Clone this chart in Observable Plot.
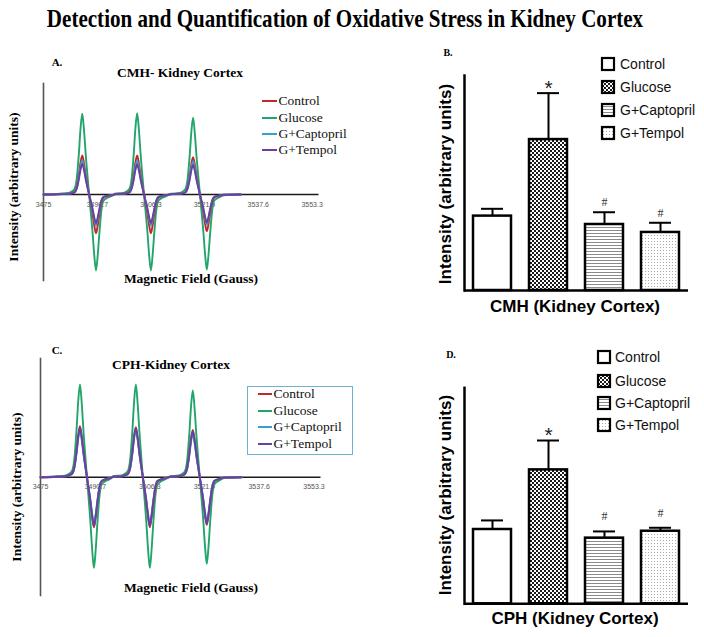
<!DOCTYPE html>
<html>
<head>
<meta charset="utf-8">
<script src="https://cdn.jsdelivr.net/npm/d3@7"></script>
<script src="https://cdn.jsdelivr.net/npm/@observablehq/plot@0.6"></script>
<style>
  html, body { margin: 0; padding: 0; background: white; }
  #fig { position: relative; width: 704px; height: 637px; overflow: hidden; background: white; }
  .serif { font-family: "Liberation Serif", "Times New Roman", serif; }
  .sans { font-family: "Liberation Sans", Arial, sans-serif; }
</style>
</head>
<body>
<svg width="0" height="0" style="position:absolute">
  <defs>
    <pattern id="pat-check" width="4" height="4" patternUnits="userSpaceOnUse">
      <rect width="4" height="4" fill="white"/>
      <rect width="2" height="2" fill="#1a1a1a"/>
      <rect x="2" y="2" width="2" height="2" fill="#1a1a1a"/>
    </pattern>
    <pattern id="pat-hlines" width="4" height="3" patternUnits="userSpaceOnUse">
      <rect width="4" height="3" fill="white"/>
      <rect y="1" width="4" height="1" fill="#8a8a8a"/>
    </pattern>
    <pattern id="pat-dots" width="3" height="3" patternUnits="userSpaceOnUse">
      <rect width="3" height="3" fill="white"/>
      <rect width="1" height="1" fill="#a8a8a8"/>
    </pattern>
  </defs>
</svg>
<div id="fig"></div>
<script>
// ---------------- DATA ----------------
const seriesNames = ["Control", "Glucose", "G+Captopril", "G+Tempol"];

// EPR spectra: field axis tick labels (Gauss)
const fieldTicks = [3475, 3490.7, 3506.3, 3521.9, 3537.6, 3553.3];
// positions of the three positive peaks of the triplet (Gauss)
const peakFields = [3486.3, 3502.3, 3518.6];
// spectrum start / end (Gauss)
const spectrumStart = 3475;
const spectrumEnd = 3532.5;
// line profile: offset from each peak (G) and normalized height
const profileOffsets = [-6.5, -4, -3, -2.25, -1.6, -1, -0.5, 0, 0.5, 1, 2, 3, 3.5, 4, 4.5, 5, 5.6, 6.2, 7.5, 9];
const profileShape   = [0.01, 0.02, 0.04, 0.07, 0.2, 0.5, 0.82, 1, 0.8, 0.5, 0, -0.5, -0.8, -1, -0.8, -0.5, -0.2, -0.08, -0.04, -0.01];

// Panel A (CMH) peak heights / trough depths, per line of the triplet
const cmhControlPeaks = [39, 39, 37.3];
const cmhControlTroughs = [38.7, 38.7, 36.7];
const cmhGlucosePeaks = [80.7, 81.3, 76.7];
const cmhGlucoseTroughs = [76, 76, 75];
const cmhCaptoprilPeaks = [34, 33.5, 33];
const cmhCaptoprilTroughs = [31, 31, 30];
const cmhTempolPeaks = [30.5, 30, 29.5];
const cmhTempolTroughs = [28.7, 28.5, 28];

// Panel C (CPH)
const cphControlPeaks = [51, 50, 47.3];
const cphControlTroughs = [50, 50, 47.7];
const cphGlucosePeaks = [92.7, 92.7, 86.7];
const cphGlucoseTroughs = [90.7, 90.7, 86.7];
const cphCaptoprilPeaks = [46.7, 47.3, 43.3];
const cphCaptoprilTroughs = [46, 46, 44];
const cphTempolPeaks = [49.5, 49, 46];
const cphTempolTroughs = [49, 48.5, 46.5];

// Bar charts (arbitrary units)
const cmhMeans = [34.6, 70.2, 30.7, 27.0];
const cmhErrors = [3.4, 21.6, 5.7, 4.5];
const cmhMarks = ["", "*", "#", "#"];
const cphMeans = [34.4, 62.0, 30.4, 33.6];
const cphErrors = [4.2, 13.6, 3.1, 1.6];
const cphMarks = ["", "*", "#", "#"];

// ---------------- STYLES ----------------
const lineColors = {"Control": "#c0282d", "Glucose": "#22a56b", "G+Captopril": "#3a9fcf", "G+Tempol": "#6a3fa0"};
const barFills = {"Control": "white", "Glucose": "url(#pat-check)", "G+Captopril": "url(#pat-hlines)", "G+Tempol": "url(#pat-dots)"};
const drawOrder = ["Glucose", "Control", "G+Captopril", "G+Tempol"];

const fig = document.getElementById("fig");

function label(text, cx, cy, cls, style, extraTransform) {
  const d = document.createElement("div");
  d.textContent = text;
  d.className = cls;
  Object.assign(d.style, {
    position: "absolute", left: cx + "px", top: cy + "px",
    transform: "translate(-50%,-50%)" + (extraTransform || ""),
    whiteSpace: "nowrap", lineHeight: "1"
  }, style || {});
  fig.appendChild(d);
  return d;
}
function leftText(text, x, cy, cls, style) {
  const d = document.createElement("div");
  d.textContent = text;
  d.className = cls;
  Object.assign(d.style, {
    position: "absolute", left: x + "px", top: cy + "px",
    transform: "translateY(-50%)", whiteSpace: "nowrap", lineHeight: "1"
  }, style || {});
  fig.appendChild(d);
}
function addPlot(svg, left, top) {
  svg.style.position = "absolute";
  svg.style.left = left + "px";
  svg.style.top = top + "px";
  svg.style.maxWidth = "none";
  svg.style.overflow = "visible";
  fig.appendChild(svg);
}

function spectrum(peaks, troughs) {
  const rows = [{field: spectrumStart, v: 0}];
  peakFields.forEach((p, i) => {
    profileOffsets.forEach((o, j) => {
      const s = profileShape[j];
      rows.push({field: p + o, v: s * (s > 0 ? peaks[i] : troughs[i])});
    });
  });
  rows.push({field: spectrumEnd, v: 0});
  return rows;
}

function spectrumPlot(seriesRows, opts) {
  return Plot.plot({
    width: opts.width, height: opts.height,
    marginLeft: opts.marginLeft, marginRight: opts.marginRight,
    marginTop: opts.marginTop, marginBottom: opts.marginBottom,
    x: {domain: [3475, 3555.3], axis: null},
    y: {domain: opts.yDomain, axis: null},
    style: {background: "transparent", fontFamily: "Liberation Sans, Arial, sans-serif", overflow: "visible"},
    marks: [
      Plot.frame({anchor: "left", stroke: "#555", strokeWidth: 1.6}),
      Plot.text(fieldTicks, {x: d => d, y: 0, dy: 10, text: d => String(d), fontSize: 7, fill: "#555"}),
      Plot.ruleY([0], {stroke: "#1a1a1a", strokeWidth: 1.5}),
      ...drawOrder.map(name => Plot.line(seriesRows[name], {
        x: "field", y: "v", stroke: lineColors[name], strokeWidth: 1.9, curve: "monotone-x"
      }))
    ]
  });
}

// ---------------- TITLE ----------------
label("Detection and Quantification of Oxidative Stress in Kidney Cortex", 345, 19, "serif",
  {fontWeight: "bold", fontSize: "26px"}, " scaleX(0.81)");

// ---------------- PANEL A ----------------
const specA = {
  "Control": spectrum(cmhControlPeaks, cmhControlTroughs),
  "Glucose": spectrum(cmhGlucosePeaks, cmhGlucoseTroughs),
  "G+Captopril": spectrum(cmhCaptoprilPeaks, cmhCaptoprilTroughs),
  "G+Tempol": spectrum(cmhTempolPeaks, cmhTempolTroughs)
};
addPlot(spectrumPlot(specA, {width: 340, height: 260, marginLeft: 43, marginRight: 21.5, marginTop: 43, marginBottom: 20, yDomain: [-86, 111]}), 0, 40);
label("A.", 57, 62, "serif", {fontWeight: "bold", fontSize: "11px"});
label("CMH- Kidney Cortex", 180, 73, "serif", {fontWeight: "bold", fontSize: "13.5px"});
label("Intensity (arbitrary units)", 13.5, 187, "serif", {fontWeight: "bold", fontSize: "13.5px"}, " rotate(-90deg)");
label("Magnetic Field (Gauss)", 191, 279, "serif", {fontWeight: "bold", fontSize: "13.5px"});

function specLegend(rowsY, lx1, lx2, tx) {
  seriesNames.forEach((name, i) => {
    const ln = document.createElement("div");
    Object.assign(ln.style, {position: "absolute", left: lx1 + "px", top: (rowsY[i] - 1) + "px",
      width: (lx2 - lx1) + "px", height: "2px", background: lineColors[name]});
    fig.appendChild(ln);
    leftText(name, tx, rowsY[i], "serif", {fontSize: "13.5px", color: "#111"});
  });
}
specLegend([101, 117.7, 134.3, 150], 262, 277, 278.5);

// ---------------- PANEL C ----------------
const specC = {
  "Control": spectrum(cphControlPeaks, cphControlTroughs),
  "Glucose": spectrum(cphGlucosePeaks, cphGlucoseTroughs),
  "G+Captopril": spectrum(cphCaptoprilPeaks, cphCaptoprilTroughs),
  "G+Tempol": spectrum(cphTempolPeaks, cphTempolTroughs)
};
addPlot(spectrumPlot(specC, {width: 340, height: 280, marginLeft: 40, marginRight: 19.5, marginTop: 28, marginBottom: 15, yDomain: [-118.3, 118.7]}), 0, 330);
label("C.", 57, 350, "serif", {fontWeight: "bold", fontSize: "11px"});
label("CPH-Kidney Cortex", 171, 365, "serif", {fontWeight: "bold", fontSize: "13.5px"});
label("Intensity (arbitrary units)", 16.7, 487, "serif", {fontWeight: "bold", fontSize: "13.5px"}, " rotate(-90deg)");
label("Magnetic Field (Gauss)", 191, 588, "serif", {fontWeight: "bold", fontSize: "13.5px"});
const boxC = document.createElement("div");
Object.assign(boxC.style, {position: "absolute", left: "247px", top: "386px", width: "104px", height: "67px",
  border: "1px solid #6bb3d0", background: "white"});
fig.appendChild(boxC);
specLegend([393.5, 410.7, 427.3, 444], 258, 272, 273.5);

// ---------------- BAR PANELS ----------------
function barRows(means, errors, marks) {
  return seriesNames.map((g, i) => ({group: g, mean: means[i], err: errors[i], top: means[i] + errors[i], mark: marks[i]}));
}
function barPlot(rows, opts) {
  return Plot.plot({
    width: 344, height: opts.height,
    marginLeft: 104, marginRight: 16, marginTop: opts.marginTop, marginBottom: opts.marginBottom,
    x: {domain: seriesNames, paddingInner: 0.32, paddingOuter: 0.16, axis: null},
    y: {domain: [0, 100], axis: null},
    style: {background: "transparent", fontFamily: "Liberation Sans, Arial, sans-serif", overflow: "visible"},
    marks: [
      Plot.ruleX(rows, {x: "group", y1: "mean", y2: "top", stroke: "black", strokeWidth: 2}),
      Plot.tickY(rows, {x: "group", y: "top", stroke: "black", strokeWidth: 2, insetLeft: 8, insetRight: 8}),
      Plot.barY(rows, {x: "group", y: "mean", fill: d => barFills[d.group], stroke: "black", strokeWidth: 2.5}),
      Plot.text(rows.filter(d => d.mark === "*"), {x: "group", y: "top", text: "mark", dy: opts.starDy, fontSize: 21, fill: "#222"}),
      Plot.text(rows.filter(d => d.mark === "#"), {x: "group", y: "top", text: "mark", dy: opts.hashDy, fontSize: 12, fill: "#333", fontFamily: "Liberation Serif, serif"}),
      Plot.ruleY([0], {stroke: "black", strokeWidth: 2.5}),
      Plot.frame({anchor: "left", stroke: "black", strokeWidth: 2.5})
    ]
  });
}
function barLegend(rowsY, cx, tx) {
  seriesNames.forEach((name, i) => {
    const s = document.createElementNS("http://www.w3.org/2000/svg", "svg");
    s.setAttribute("width", 16); s.setAttribute("height", 16);
    Object.assign(s.style, {position: "absolute", left: (cx - 8) + "px", top: (rowsY[i] - 8) + "px"});
    const r = document.createElementNS("http://www.w3.org/2000/svg", "rect");
    r.setAttribute("x", 2); r.setAttribute("y", 2); r.setAttribute("width", 12); r.setAttribute("height", 12);
    r.setAttribute("fill", barFills[name]); r.setAttribute("stroke", "black"); r.setAttribute("stroke-width", 2.2);
    s.appendChild(r);
    fig.appendChild(s);
    leftText(name, tx, rowsY[i], "sans", {fontSize: "14px", color: "#111"});
  });
}

// Panel B
addPlot(barPlot(barRows(cmhMeans, cmhErrors, cmhMarks), {height: 290, marginTop: 35, marginBottom: 40, starDy: -5, hashDy: -10}), 360, 40);
label("B.", 448, 53, "serif", {fontWeight: "bold", fontSize: "10px"});
label("Intensity (arbitrary units)", 445, 183.5, "sans", {fontWeight: "bold", fontSize: "17px"}, " rotate(-90deg)");
label("CMH (Kidney Cortex)", 575, 306, "sans", {fontWeight: "bold", fontSize: "17px"});
barLegend([64.3, 86.7, 110, 133.3], 608.3, 620);

// Panel D
addPlot(barPlot(barRows(cphMeans, cphErrors, cphMarks), {height: 300, marginTop: 57.3, marginBottom: 26.7, starDy: -5, hashDy: -15}), 360, 330);
label("D.", 451, 355, "serif", {fontWeight: "bold", fontSize: "10px"});
label("Intensity (arbitrary units)", 445, 495, "sans", {fontWeight: "bold", fontSize: "17px"}, " rotate(-90deg)");
label("CPH (Kidney Cortex)", 575, 618, "sans", {fontWeight: "bold", fontSize: "17px"});
barLegend([357.3, 381, 402.7, 425], 603.7, 615);
</script>
</body>
</html>
